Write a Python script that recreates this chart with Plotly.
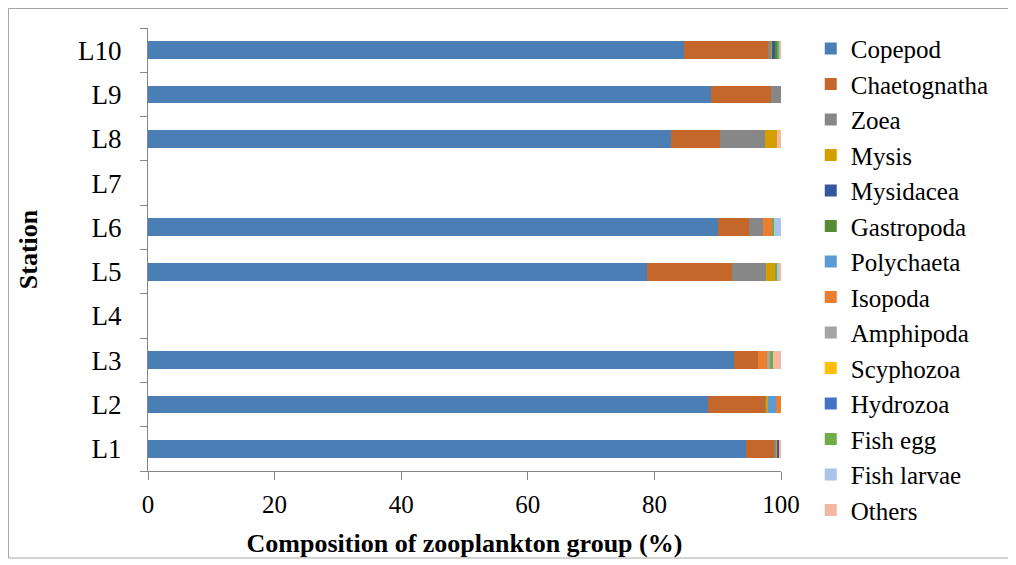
import plotly.graph_objects as go

stations = ["L1", "L2", "L3", "L4", "L5", "L6", "L7", "L8", "L9", "L10"]

# percentage composition per group, one value per station (L1..L10)
copepod = [94.4, 88.5, 92.5, 0, 78.9, 90.0, 0, 82.6, 88.9, 84.6]
chaetognatha = [4.6, 9.0, 3.9, 0, 13.3, 4.9, 0, 7.7, 9.5, 13.4]
zoea = [0.3, 0.2, 0, 0, 5.5, 2.3, 0, 7.1, 1.6, 0.5]
mysis = [0.2, 0.2, 0, 0, 1.5, 0, 0, 2.0, 0, 0.1]
mysidacea = [0.2, 0, 0, 0, 0, 0, 0, 0, 0, 0.5]
gastropoda = [0, 0, 0, 0, 0, 0, 0, 0, 0, 0.3]
polychaeta = [0, 1.3, 0, 0, 0, 0, 0, 0, 0, 0.1]
isopoda = [0, 0.8, 1.4, 0, 0, 1.3, 0, 0, 0, 0]
amphipoda = [0, 0, 0.5, 0, 0, 0, 0, 0, 0, 0]
scyphozoa = [0, 0, 0, 0, 0, 0, 0, 0, 0, 0]
hydrozoa = [0, 0, 0, 0, 0, 0, 0, 0, 0, 0]
fish_egg = [0, 0, 0.5, 0, 0.2, 0.4, 0, 0, 0, 0.2]
fish_larvae = [0, 0, 0, 0, 0.3, 1.1, 0, 0, 0, 0.2]
others = [0.3, 0, 1.2, 0, 0.3, 0, 0, 0.6, 0, 0.1]

groups = [
    ("Copepod", copepod, "#4a7eb4"),
    ("Chaetognatha", chaetognatha, "#c4672b"),
    ("Zoea", zoea, "#878787"),
    ("Mysis", mysis, "#d4a000"),
    ("Mysidacea", mysidacea, "#34589e"),
    ("Gastropoda", gastropoda, "#568a34"),
    ("Polychaeta", polychaeta, "#5b9bd5"),
    ("Isopoda", isopoda, "#ed7d31"),
    ("Amphipoda", amphipoda, "#a5a5a5"),
    ("Scyphozoa", scyphozoa, "#ffc000"),
    ("Hydrozoa", hydrozoa, "#4472c4"),
    ("Fish egg", fish_egg, "#70ad47"),
    ("Fish larvae", fish_larvae, "#a9c4e8"),
    ("Others", others, "#f4b8a2"),
]

FONT = "Liberation Serif"

fig = go.Figure()
for name, vals, color in groups:
    fig.add_trace(
        go.Bar(
            y=stations,
            x=vals,
            name=name,
            orientation="h",
            marker=dict(color=color, line=dict(width=0)),
            width=0.4,
        )
    )

# page body has ~8px margin, so the figure is a bit smaller than the window
fig.update_layout(
    barmode="stack",
    width=1008,
    height=557,
    margin=dict(l=140, r=235, t=20, b=94, autoexpand=False),
    plot_bgcolor="white",
    paper_bgcolor="white",
    font=dict(family=FONT, color="black"),
    legend=dict(
        traceorder="normal",
        x=1.047,
        xanchor="left",
        y=1.005,
        yanchor="top",
        font=dict(size=25, family=FONT),
        itemwidth=30,
        maxheight=560,
    ),
    showlegend=True,
)

fig.update_xaxes(
    range=[0, 100],
    dtick=20,
    showgrid=False,
    showline=True,
    linecolor="#868686",
    linewidth=1,
    ticks="outside",
    ticklen=8,
    tickcolor="#868686",
    tickfont=dict(size=25, family=FONT),
    ticklabelstandoff=3,
    title=dict(
        text="<b>Composition of zooplankton group (%)</b>",
        font=dict(size=26, family=FONT),
        standoff=16,
    ),
)

fig.update_yaxes(
    type="category",
    categoryorder="array",
    categoryarray=stations,
    showgrid=False,
    showline=True,
    linecolor="#868686",
    linewidth=1,
    ticks="outside",
    ticklen=7,
    tickcolor="#868686",
    tickson="boundaries",
    tickfont=dict(size=27, family=FONT),
    ticklabelstandoff=20,
    title=dict(
        text="<b>Station</b>",
        font=dict(size=26, family=FONT),
        standoff=32,
    ),
)

# outer chart border
fig.add_shape(
    type="rect",
    xref="paper",
    yref="paper",
    x0=-0.2204,
    x1=1.3602,
    y0=-0.1964,
    y1=1.044,
    line=dict(color="#a6a6a6", width=1),
    fillcolor="rgba(0,0,0,0)",
    layer="below",
)

fig.write_html("out.html")
